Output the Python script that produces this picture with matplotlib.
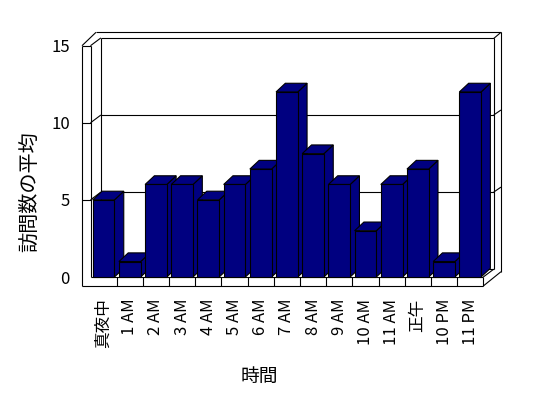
import matplotlib
matplotlib.use('Agg')
import matplotlib.pyplot as plt
from matplotlib.patches import Polygon

categories = ['真夜中', '1 AM', '2 AM', '3 AM', '4 AM', '5 AM', '6 AM', '7 AM',
              '8 AM', '9 AM', '10 AM', '11 AM', '正午', '10 PM', '11 PM']
values = [5, 1, 6, 6, 5, 6, 7, 12, 8, 6, 3, 6, 7, 1, 12]
yticks = [0, 5, 10, 15]
ytick_labels = ['0', '5', '10', '15']
ylabel = '訪問数の平均'
xlabel = '時間'

plt.rcParams['font.family'] = ['Noto Sans CJK JP', 'DejaVu Sans']
plt.rcParams['font.size'] = 12

W, H = 548, 398
fig = plt.figure(figsize=(W / 100, H / 100), dpi=100)
fig.patch.set_facecolor('white')

# front plane of the plot (pixels)
L, R, B, T = 90.5, 483.3, 277.0, 45.7
ax = fig.add_axes([L / W, 1 - B / H, (R - L) / W, (B - T) / H])
n = len(values)
ymax = yticks[-1]
ax.set_xlim(-0.5, n - 0.5)
ax.set_ylim(0, ymax)
sx = (R - L) / n
sy = (B - T) / ymax


def dx(p):
    return p / sx


def dy(p):
    return p / sy


x0, x1 = -0.5, n - 0.5
# depth / thickness in pixels
wdx, wdy = 10.4, 7.8      # wall depth
wall_t = 8.5              # left wall thickness
floor_t = 9.0             # floor thickness
out_dx, out_dy = 5.5, 13.4
right_out = 17.7

lc = 'black'
lw = 0.8


def line(xs, ys, z=1):
    ax.plot(xs, ys, color=lc, lw=lw, clip_on=False, zorder=z, solid_capstyle='butt')


xl_out = x0 - dx(wall_t)
yb_out = -dy(floor_t)
xb_in = x0 + dx(wdx)
xr_in = x1 + dx(wdx)
xr_out = x1 + dx(right_out)
ytop_in = ymax + dy(wdy)
ytop_out = ymax + dy(out_dy)
yback0 = dy(wdy)

# left wall
line([xl_out, xl_out], [ymax, yb_out])
line([x0, x0], [ymax, 0])
line([xl_out, x0], [ymax, ymax])
line([xl_out, x0 + dx(out_dx)], [ymax, ytop_out])
line([x0, xb_in], [ymax, ytop_in])
line([xb_in, xb_in], [ytop_in, yback0])
# back wall top
line([xb_in, xr_in], [ytop_in, ytop_in])
line([x0 + dx(out_dx), xr_out], [ytop_out, ytop_out])
line([xr_out, xr_in], [ytop_out, ytop_in - dy(0.6)])
# right wall
line([xr_in, xr_in], [ytop_in, yback0])
line([xr_out, xr_out], [ytop_out, dy(5.3)])
# back wall bottom
line([xb_in, xr_in], [yback0, yback0])
# floor
line([x0, x1], [0, 0])
line([xl_out, x1], [yb_out, yb_out])
line([x1, x1], [0, yb_out])
line([x1, xr_in], [0, yback0])
line([x1, xr_out], [yb_out, dy(5.3)])
for i in range(1, n):
    line([i - 0.5, i - 0.5], [0, yb_out])

# gridlines
for v in yticks[1:-1]:
    line([xb_in, xr_in], [v + dy(wdy), v + dy(wdy)])
    line([x0, xb_in], [v, v + dy(wdy)])
    line([xl_out, x0], [v, v])
    line([xr_in, xr_out], [v + dy(wdy), v + dy(wdy) + dy(5)])

# bars
color = '#000080'
bw = 0.83
bdx, bdy = dx(9.3), dy(8.7)
bars = ax.bar(range(n), values, width=bw, color=color, edgecolor='black',
              linewidth=lw, clip_on=False)
for i, (rect, v) in enumerate(zip(bars, values)):
    left = i - bw / 2
    right = i + bw / 2
    top = Polygon([(left, v), (right, v), (right + bdx, v + bdy), (left + bdx, v + bdy)],
                  closed=True, facecolor=color, edgecolor='black', linewidth=lw,
                  zorder=4 + 2 * i, clip_on=False)
    side = Polygon([(right, 0), (right, v), (right + bdx, v + bdy), (right + bdx, bdy)],
                   closed=True, facecolor=color, edgecolor='black', linewidth=lw,
                   zorder=4 + 2 * i, clip_on=False)
    ax.add_patch(side)
    ax.add_patch(top)
    rect.set_zorder(5 + 2 * i)

for s in ax.spines.values():
    s.set_visible(False)
ax.set_facecolor('none')
ax.set_yticks(yticks)
ax.set_yticklabels(ytick_labels)
ax.set_xticks(range(n))
ax.set_xticklabels(categories, rotation=90)
ax.tick_params(axis='y', length=0, pad=14.8)
ax.tick_params(axis='x', length=0, pad=15.5)

fig.text(259 / W, 1 - 376 / H, xlabel, ha='center', va='center', fontsize=13.5)
fig.text(30 / W, 1 - 192 / H, ylabel, ha='center', va='center', rotation=90, fontsize=14.5)

fig.savefig('out.png', dpi=100)
